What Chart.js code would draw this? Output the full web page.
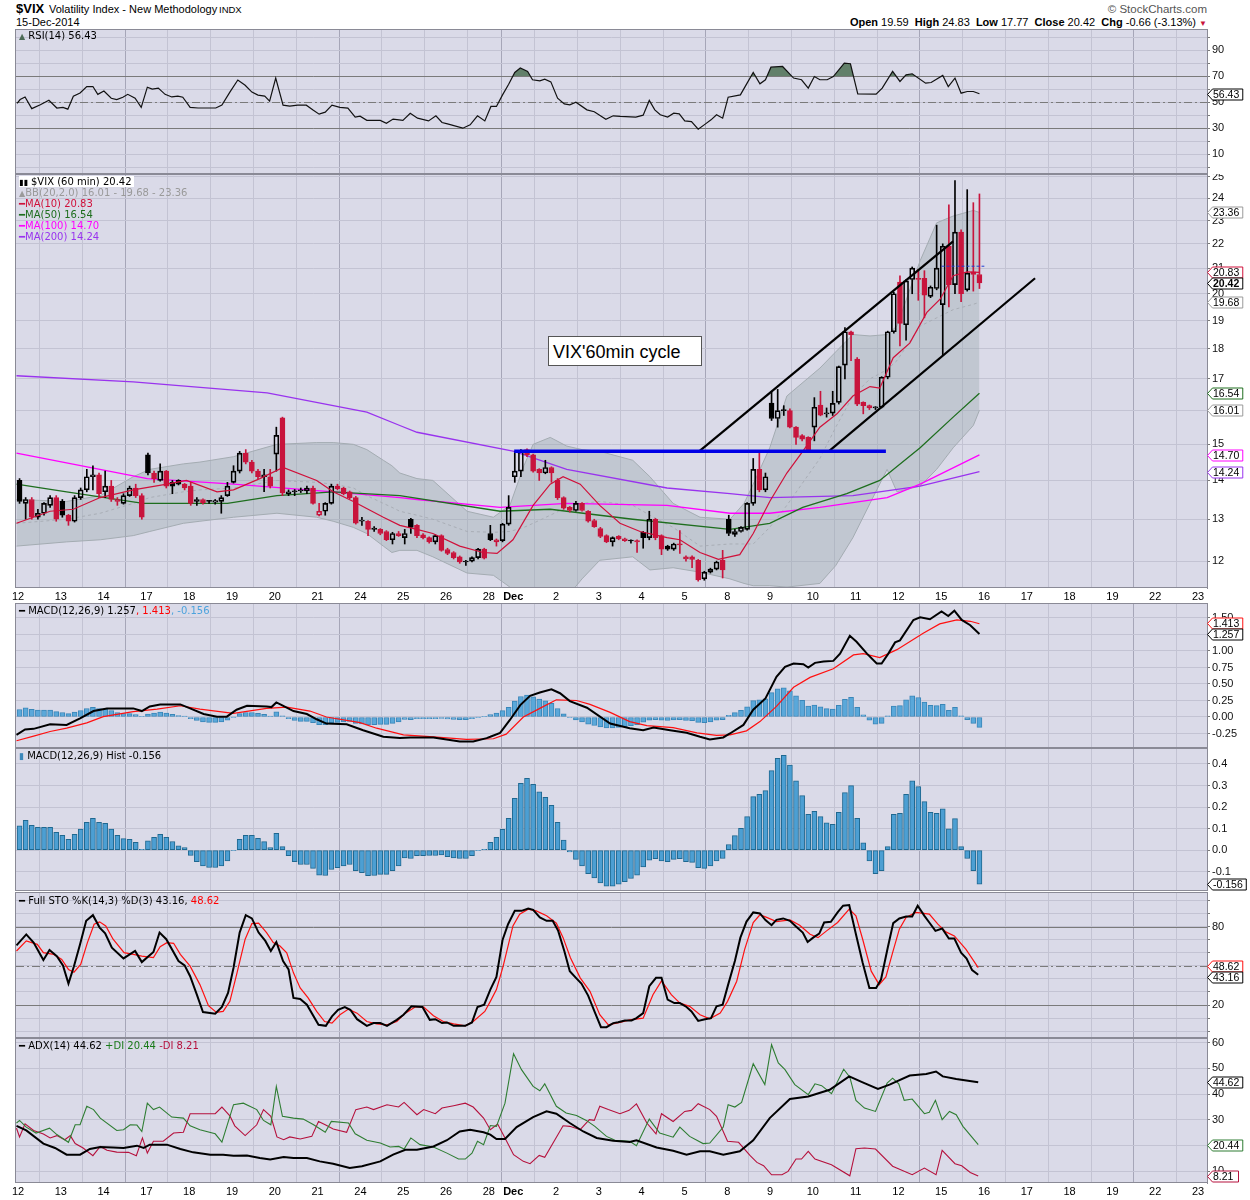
<!DOCTYPE html>
<html>
<head>
<meta charset="utf-8">
<script src="https://cdn.jsdelivr.net/npm/chart.js@4.4.1/dist/chart.umd.min.js"></script>
<style>
body{margin:0;background:#fff;width:1250px;height:1200px;position:relative;overflow:hidden;font-family:"Liberation Sans",Arial,sans-serif}
canvas{position:absolute;left:0}
.lg{position:absolute;left:19px;font-family:"DejaVu Sans",Verdana,sans-serif;font-size:10px;line-height:11px;white-space:nowrap;z-index:5}
.lg div{height:11px}
.hd{position:absolute;white-space:nowrap;z-index:5}
</style>
</head>
<body>
<div class="hd" style="left:16px;top:1px;font-size:13px;font-weight:bold">$VIX</div>
<div class="hd" style="left:49px;top:3px;font-size:11px">Volatility Index - New Methodology</div>
<div class="hd" style="left:219px;top:4px;font-size:9.5px">INDX</div>
<div class="hd" style="left:16px;top:16px;font-size:11px">15-Dec-2014</div>
<div class="hd" style="right:43px;top:3px;font-size:11.5px;color:#555">© StockCharts.com</div>
<div class="hd" style="right:43px;top:16px;font-size:11px"><b>Open</b> 19.59 &nbsp;<b>High</b> 24.83 &nbsp;<b>Low</b> 17.77 &nbsp;<b>Close</b> 20.42 &nbsp;<b>Chg</b> -0.66 (-3.13%) <span style="color:#c8143c;font-size:8px">▼</span></div>

<canvas id="rsi" width="1250" height="145" style="top:29px"></canvas>
<canvas id="main" width="1250" height="428" style="top:174px"></canvas>
<canvas id="macd" width="1250" height="145" style="top:603px"></canvas>
<canvas id="hist" width="1250" height="143" style="top:748px"></canvas>
<canvas id="sto" width="1250" height="146" style="top:892px"></canvas>
<canvas id="adx" width="1250" height="159" style="top:1038px"></canvas>

<div class="lg" style="top:30px"><span style="color:#4d6b57;font-size:8px">▲</span> RSI(14) 56.43</div>
<div class="lg" style="top:176px">
  <div><span style="background:#fff;padding-right:2px"><span style="font-size:8px">▮▮</span> $VIX (60 min) 20.42</span></div>
  <div style="color:#9a9a9a"><span style="font-size:8px">▲</span>BB(20,2.0) 16.01 - 19.68 - 23.36</div>
  <div style="color:#d0103a">━MA(10) 20.83</div>
  <div style="color:#1e6e1e">━MA(50) 16.54</div>
  <div style="color:#ff00ff">━MA(100) 14.70</div>
  <div style="color:#9933ee">━MA(200) 14.24</div>
</div>
<div class="lg" style="top:605px">━ MACD(12,26,9) 1.257<span style="color:#ff0000">, 1.413</span><span style="color:#4ca3dd">, -0.156</span></div>
<div class="lg" style="top:750px"><span style="color:#3b87ba;font-size:9px">▮</span> MACD(12,26,9) Hist -0.156</div>
<div class="lg" style="top:895px">━ Full STO %K(14,3) %D(3) 43.16,<span style="color:#ff0000"> 48.62</span></div>
<div class="lg" style="top:1040px">━ ADX(14) 44.62 <span style="color:#1a7a1a">+DI 20.44</span> <span style="color:#b5103c">-DI 8.21</span></div>

<div class="hd" style="left:548px;top:336px;width:154px;height:30px;border:1px solid #555;background:#fff;font-size:18px;line-height:30px;padding-left:4px;box-sizing:border-box">VIX'60min cycle</div>

<script>
// ---- x axis: day starts (bar index) and their labels
const dayStart = [0,7,14,21,28,35,42,49,56,63,70,77,81,88,95,102,109,116,123,130,137,144,151,158,165,172,179,186,193];
const dayLabel = ['12','13','14','17','18','19','20','21','24','25','26','28','Dec','2','3','4','5','8','9','10','11','12','15','16','17','18','19','22','23'];
const weekStart = [21,56,81,116,151,186];

// ---- hourly candles
const open = [14.0,13.4,13.5,13.05,13.15,13.35,13.55,13.45,13.1,12.95,
13.55,13.75,14.1,14.15,13.7,13.85,13.5,13.4,13.6,13.8,
13.6,14.7,14.2,14.0,14.25,13.95,14.0,13.9,13.85,13.5,
13.5,13.45,13.43,13.45,13.6,13.95,14.25,14.75,14.5,14.25,
14.1,14.1,14.72,15.78,13.65,13.7,13.72,13.72,13.8,13.1,
13.2,13.4,13.85,13.8,13.7,13.55,12.95,12.95,12.75,12.75,
12.7,12.5,12.65,12.55,13.0,12.85,12.62,12.55,12.45,12.6,
12.27,12.2,12.1,11.98,12.0,12.08,12.28,12.65,12.5,12.48,
12.88,14.1,14.25,14.85,14.7,14.3,14.2,14.35,14.0,13.55,
13.3,13.22,13.4,13.2,12.97,12.77,12.6,12.45,12.58,12.52,
12.47,12.48,12.68,12.55,13.0,12.6,12.35,12.28,12.4,12.1,
12.1,12.02,11.6,11.75,11.82,12.02,13.0,12.63,12.7,12.75,
13.4,14.3,13.75,16.23,15.76,16.0,16.0,15.5,15.25,15.2,
15.5,16.17,15.9,15.92,16.25,17.45,18.6,17.65,16.25,16.15,
16.08,16.1,17.05,18.6,20.45,18.85,20.55,20.6,20.6,19.9,
20.2,19.59,21.9,20.35,22.5,20.15,20.85,20.75];
const high = [14.05,13.55,13.55,13.25,13.42,13.6,13.6,13.5,13.12,13.6,
13.8,14.3,14.4,14.2,14.25,14.0,13.55,13.65,13.85,13.9,
13.65,14.75,14.25,14.45,14.27,14.0,14.02,13.92,13.95,13.55,
13.52,13.48,13.5,13.6,13.95,14.4,14.8,14.85,14.55,14.3,
14.3,14.3,15.5,15.8,13.75,13.76,13.8,13.85,13.85,13.4,
13.42,13.9,13.9,13.82,13.72,13.58,13.05,12.97,12.82,12.77,
12.72,12.68,12.7,12.75,13.02,12.87,12.65,12.57,12.62,12.62,
12.3,12.22,12.12,12.02,12.1,12.3,12.3,12.85,12.52,12.9,
13.6,14.8,14.85,14.87,14.72,14.32,14.55,14.37,14.05,13.57,
13.32,13.45,13.42,13.22,13.0,12.8,12.62,12.57,12.6,12.54,
12.5,12.5,12.7,13.2,13.02,12.62,12.37,12.42,12.72,12.12,
12.12,12.04,11.77,11.84,12.0,12.25,13.1,12.75,12.82,13.42,
14.6,14.75,14.2,16.6,16.66,16.15,16.05,15.52,15.28,15.22,
16.4,16.6,16.08,16.6,17.42,18.75,18.62,17.7,16.27,16.17,
16.12,17.07,18.62,20.05,20.7,20.55,21.05,20.95,20.9,20.3,
22.8,22.0,23.7,24.83,22.6,24.4,23.8,24.2];
const low = [13.4,13.0,13.0,13.0,13.1,13.3,12.95,13.05,12.85,12.93,
13.5,13.7,13.75,13.55,13.55,13.45,13.35,13.38,13.58,13.55,
13.0,14.15,13.95,13.98,13.8,13.65,13.88,13.75,13.35,13.35,
13.38,13.4,13.38,13.15,13.58,13.93,14.2,14.45,14.2,14.05,
13.7,13.8,14.25,13.6,13.6,13.6,13.68,13.65,13.38,13.08,
13.1,13.38,13.75,13.62,13.52,12.88,12.85,12.6,12.7,12.62,
12.48,12.4,12.58,12.4,12.65,12.55,12.52,12.42,12.4,12.23,
12.15,12.05,11.95,11.9,11.98,12.05,12.05,12.48,12.35,12.45,
12.85,13.95,14.1,14.65,14.22,14.0,14.18,13.95,13.5,13.25,
13.18,13.2,13.2,12.93,12.8,12.55,12.43,12.35,12.5,12.46,
12.42,12.2,12.3,12.5,12.5,12.15,12.25,12.25,12.18,12.0,
11.85,11.55,11.57,11.73,11.8,11.62,12.6,12.58,12.68,12.73,
13.35,13.7,13.7,15.7,15.5,15.85,15.48,15.0,15.1,14.82,
15.1,15.84,15.8,15.85,16.2,17.0,17.6,16.15,15.9,16.03,
16.03,16.08,17.0,18.55,18.1,18.3,20.0,19.75,19.1,19.85,
20.15,17.77,19.5,20.0,19.7,20.1,20.1,20.2];
const close = [13.45,13.5,13.05,13.15,13.4,13.55,13.0,13.1,12.95,13.55,
13.75,14.1,14.15,13.65,13.85,13.5,13.45,13.6,13.8,13.6,
13.05,14.2,14.05,14.25,13.85,13.85,13.9,13.8,13.4,13.45,
13.42,13.46,13.47,13.55,13.85,14.25,14.75,14.5,14.25,14.1,
14.15,13.85,15.26,13.67,13.7,13.72,13.75,13.8,13.4,13.2,
13.4,13.85,13.78,13.65,13.55,12.9,12.98,12.75,12.78,12.65,
12.5,12.65,12.6,12.65,12.8,12.6,12.55,12.45,12.6,12.25,
12.18,12.08,11.98,12.0,12.08,12.28,12.07,12.5,12.45,12.88,
13.3,14.25,14.82,14.7,14.25,14.2,14.35,14.2,13.55,13.28,
13.22,13.4,13.22,12.95,12.82,12.58,12.45,12.55,12.52,12.48,
12.48,12.45,12.55,13.0,12.55,12.28,12.28,12.4,12.38,12.05,
12.04,11.58,11.75,11.82,11.98,11.8,12.65,12.7,12.8,13.4,
14.3,13.75,14.1,15.76,16.0,16.02,15.5,15.2,15.15,14.85,
16.1,15.86,15.93,16.22,17.4,18.6,18.5,16.2,16.15,16.08,
16.1,17.05,18.6,20.0,18.9,20.5,21.0,20.55,19.95,20.25,
21.0,21.9,20.35,22.5,20.0,20.8,20.75,20.42];

// ---- price overlays, [bar index, value]
const ma10 = [[-0.5,12.9],[5,13.2],[8.8,13.25],[13.2,13.55],[18.6,13.75],[24.1,13.9],[27.3,14.0],[32.3,13.7],[35,13.75],[39.3,14.05],[43.1,14.35],[48.6,14.0],[51.3,13.7],[54.6,13.45],[59.5,13.05],[62.2,12.85],[65,12.75],[67.6,12.65],[72,12.35],[75.8,12.2],[78.1,12.18],[80.7,12.5],[84,13.35],[86.8,13.9],[88.9,14.1],[91.7,13.9],[94.9,13.35],[98.2,12.9],[101.5,12.7],[105.9,12.55],[108,12.5],[111.3,12.2],[114.3,12.04],[117.8,12.15],[120,12.65],[122.7,13.45],[125.5,14.2],[128.1,14.8],[130.9,15.5],[133.7,15.9],[136.3,16.45],[139.1,16.75],[140.7,16.7],[142.9,17.7],[145.6,18.2],[148.4,19.3],[150.6,19.8],[152.7,20.7],[155,20.85],[157,20.83]];
const ma50 = [[-0.5,13.9],[7.7,13.7],[20.2,13.4],[34,13.4],[42.1,13.6],[51.3,13.7],[62.2,13.6],[78.6,13.2],[86.8,13.25],[100.3,13.0],[116.2,12.75],[122.7,12.9],[128.1,13.3],[135.3,13.65],[140.7,14.0],[147.3,14.9],[152.7,15.8],[157,16.54]];
const ma100 = [[-0.5,14.75],[20.9,14.05],[35,13.9],[51.3,13.7],[62.2,13.55],[65,13.5],[78.6,13.3],[89.5,13.4],[105.9,13.35],[116.2,13.15],[122.7,13.15],[130.9,13.3],[141.9,13.55],[147.3,13.9],[157,14.70]];
const ma200 = [[-0.5,17.1],[18.6,16.9],[40.5,16.55],[56.8,15.95],[62.2,15.55],[65,15.35],[80.9,14.8],[89.5,14.3],[105.9,13.8],[116.2,13.65],[122.7,13.55],[136.3,13.6],[147.3,13.85],[157,14.24]];
// Bollinger: [bar index, lower, middle, upper]
const bb = [[-0.5,12.35,12.9,13.5],[7.7,12.45,13.0,13.45],[13.2,12.5,13.15,13.6],[18.6,12.6,13.4,14.1],[21.3,12.7,13.55,14.3],[26.8,12.9,13.7,14.45],[29.5,12.95,13.75,14.5],[35,13.05,13.8,14.65],[42.1,13.15,14.0,15.0],[48.6,13.05,13.95,15.05],[51.3,12.95,13.9,15.05],[54.6,12.8,13.8,15.0],[56.8,12.65,13.6,14.85],[59.5,12.35,13.4,14.55],[60.9,12.2,13.3,14.4],[62.2,12.25,13.2,14.2],[65,12.25,13.1,14.05],[67.6,12.1,13.0,14.0],[73.2,11.73,12.7,13.2],[77.5,11.68,12.68,13.05],[80.2,11.42,12.7,13.35],[82.5,11.2,12.8,14.4],[84,11.1,12.9,15.0],[86.8,11.1,13.1,15.2],[89.5,11.2,13.3,14.95],[92,11.6,13.4,14.85],[94.9,12.02,13.45,14.8],[100.3,12.1,13.35,14.55],[103.1,11.8,13.1,14.1],[106.9,11.85,12.8,13.4],[111.3,11.75,12.35,13.05],[116.2,11.6,12.4,13.0],[118.5,11.5,12.4,13.4],[120,11.45,12.4,13.9],[122.7,11.45,12.8,14.9],[125.5,11.42,13.35,16.45],[130.9,11.5,14.6,17.35],[133.5,11.9,15.5,17.9],[136.3,12.55,16.45,18.5],[139.1,13.4,17.0,18.45],[141.9,14.3,17.3,18.5],[143.5,13.7,17.6,18.8],[147.3,13.85,18.8,21.3],[150,14.3,19.1,22.9],[152.7,14.9,19.4,23.2],[156,15.55,19.6,23.45],[157,16.01,19.68,23.36]];
// drawn annotations
const resistance = [[80.9,14.8],[141.7,14.8]];
const channelTop = [[111,14.78],[152.7,22.1]];
const channelBottom = [[132.2,14.78],[166.1,20.6]];
const priorClose = [[150.8,21.08],[157.8,21.08]];

// ---- RSI(14)
const rsi = [[-0.4,49],[0.1,52],[0.9,54],[2,45],[3.4,48],[4.8,51.5],[6.1,45.5],[7.1,46],[7.9,44.6],[8.8,54.6],[9.9,57],[11,62],[12,62],[12.8,56],[13.8,58.5],[15,53],[15.9,52],[16.9,53.8],[17.7,56],[18.9,53],[19.9,46],[20.9,61.5],[21.7,60],[22.7,60.8],[23.8,56],[24.9,54],[25.9,54.6],[26.7,53.8],[27.9,46],[29.2,45.5],[30.7,45.5],[32.1,45.5],[33.1,47.7],[34.4,57.7],[35.7,67],[36.9,63],[38,57.7],[39,55.4],[40.1,54.6],[40.9,50.8],[41.9,68.5],[43.1,47.7],[44.2,47],[45.5,47.7],[46.9,47.7],[48,44],[49,40.8],[50,42.3],[51.1,47.7],[52.4,46],[53.7,45.4],[54.9,38.5],[55.7,39.2],[56.8,36],[59,36],[60,33.8],[61.1,37],[62.7,36],[63.9,41.5],[65.1,37.7],[66.9,35.6],[68.1,39.5],[69.1,34.4],[70,33.3],[72.5,30],[73.7,32.6],[74.9,39.5],[76.1,35.6],[77.1,46.7],[78,46.7],[79,55.6],[80,63.8],[81,72.8],[81.9,76.2],[83.1,73.6],[83.9,67.2],[85.1,66.4],[85.9,67.7],[86.9,65.6],[88,53],[89.1,48.7],[90,47.9],[91,50],[92.8,44.1],[94,42.6],[95.9,36.9],[97.1,39.5],[98.3,39],[100.8,38.5],[102,40],[103,51.3],[103.9,44.1],[104.8,40.3],[106,38.5],[107,41.5],[107.9,41],[108.8,35.6],[109.9,35.1],[111,29.2],[112.2,33.3],[113.1,36.4],[114,40.3],[115,37.7],[115.9,53.8],[117.9,55.6],[119,64.6],[120,72.8],[121.1,64.1],[122,67.2],[122.9,76.9],[124.8,77.4],[126.6,68.5],[127.9,67.2],[129,60.8],[130,69.7],[130.9,67.2],[132.1,67.2],[133.1,69.7],[134.9,80],[135.9,79.5],[137.1,56.4],[140.1,56.2],[141.1,60.8],[142.8,73.6],[144,65.9],[145,71],[146,71.8],[148.2,64.6],[149.1,65.1],[151,70.5],[151.9,62],[153,68.5],[154,56.9],[155,58.2],[156,58.2],[157,56.43]];

// ---- MACD(12,26,9)
const macd = [[-0.5,-0.27],[0.9,-0.19],[2.3,-0.18],[5,-0.11],[7.7,-0.12],[9.9,-0.02],[12.1,0.09],[14.3,0.13],[18.6,0.13],[20,0.09],[21.3,0.16],[23,0.19],[26.3,0.19],[27.9,0.13],[30.1,0.045],[32.3,0.005],[33.9,0.005],[35.5,0.11],[37.2,0.17],[40.4,0.16],[41.2,0.15],[42,0.22],[42.9,0.18],[44.8,0.09],[47,0.045],[48.6,-0.035],[50.2,-0.10],[53.5,-0.11],[56.2,-0.20],[59.5,-0.30],[62.2,-0.32],[63.9,-0.31],[67.7,-0.31],[72,-0.37],[74.2,-0.37],[76.4,-0.32],[77,-0.30],[78.6,-0.24],[80.2,-0.045],[81.9,0.18],[83.5,0.32],[85.1,0.37],[87,0.42],[88.4,0.36],[90,0.24],[92.8,0.14],[96.6,-0.10],[99.8,-0.17],[102,-0.20],[103.7,-0.16],[106.4,-0.20],[109.1,-0.24],[111.3,-0.30],[112.9,-0.34],[115.1,-0.31],[116.2,-0.25],[118.4,-0.12],[120,0.11],[122,0.28],[123.8,0.61],[125.2,0.76],[126.6,0.81],[128.2,0.80],[129,0.75],[130.1,0.82],[131.5,0.84],[133.1,0.85],[134.2,0.96],[135.8,1.23],[136.9,1.14],[138.6,0.96],[140.2,0.81],[141,0.81],[142.1,0.96],[143.2,1.13],[144,1.16],[146.2,1.47],[147.3,1.51],[148.9,1.48],[150.8,1.60],[151.9,1.53],[152.9,1.61],[154.1,1.47],[155.5,1.39],[157,1.257]];
const signal = [[-0.5,-0.36],[2.3,-0.29],[5,-0.22],[7.7,-0.17],[11,-0.09],[13.7,0.005],[18.6,0.08],[22.5,0.12],[26.3,0.17],[29.5,0.12],[35,0.055],[40.4,0.13],[43.7,0.15],[47.5,0.09],[50.2,0],[55.7,-0.085],[58.4,-0.17],[62.8,-0.27],[67.7,-0.30],[73.1,-0.34],[77.5,-0.33],[79.6,-0.26],[82.4,0],[85.1,0.13],[87.8,0.26],[91.1,0.25],[93.3,0.19],[96.6,0.07],[99.8,-0.07],[102.6,-0.13],[106.9,-0.16],[110.8,-0.24],[114,-0.28],[116.2,-0.27],[118.9,-0.21],[121.1,-0.07],[123.8,0.16],[126.6,0.45],[129.3,0.60],[133.1,0.73],[136.4,0.94],[138,0.96],[140.7,0.90],[143.5,1.02],[147.8,1.27],[150.5,1.41],[153.3,1.47],[155.5,1.45],[157,1.413]];
const hist = [0.113,0.138,0.115,0.106,0.106,0.106,0.082,0.068,0.05,0.073,
0.098,0.129,0.147,0.129,0.124,0.098,0.068,0.053,0.05,0.036,
0.003,0.043,0.059,0.073,0.059,0.040,0.020,0.012,-0.025,-0.054,
-0.073,-0.081,-0.081,-0.073,-0.050,-0.003,0.05,0.068,0.068,0.054,
0.039,0.012,0.078,0.016,-0.026,-0.054,-0.067,-0.067,-0.085,-0.116,
-0.118,-0.090,-0.082,-0.073,-0.067,-0.096,-0.105,-0.119,-0.118,-0.113,
-0.113,-0.096,-0.073,-0.036,-0.039,-0.026,-0.026,-0.025,-0.025,-0.022,
-0.031,-0.036,-0.039,-0.039,-0.026,-0.002,0.003,0.036,0.059,0.096,
0.147,0.240,0.310,0.333,0.305,0.271,0.245,0.208,0.129,0.047,
-0.009,-0.043,-0.073,-0.109,-0.129,-0.152,-0.167,-0.167,-0.158,-0.147,
-0.132,-0.116,-0.078,-0.047,-0.040,-0.050,-0.054,-0.043,-0.040,-0.054,
-0.057,-0.082,-0.085,-0.073,-0.050,-0.039,0.026,0.067,0.101,0.155,
0.248,0.259,0.276,0.369,0.426,0.440,0.395,0.322,0.253,0.166,
0.180,0.155,0.127,0.119,0.175,0.267,0.299,0.147,0.034,-0.050,
-0.109,-0.096,0.016,0.166,0.171,0.259,0.322,0.295,0.225,0.175,
0.171,0.192,0.099,0.146,0.016,-0.039,-0.096,-0.158];

// ---- Full STO %K(14,3) %D(3)
const stoK = [[-0.5,65.6],[1.1,74],[2.3,67.7],[3.9,54.4],[4.9,62],[6.1,57.4],[7.1,50.3],[8,36.4],[8.9,49.7],[9.9,66.4],[10.9,84.4],[12,88.7],[13.1,79.2],[14,74.9],[15.1,63.8],[17,55.6],[18.9,61.3],[20,52.8],[21.9,60.5],[22.9,75.4],[24,70.3],[26,53.6],[27,50.3],[27.9,42],[29,27.9],[30,14.6],[32,13.3],[33.1,18.5],[34.1,29.2],[35,48.5],[36,75.4],[37,88.7],[38,86.2],[39.1,75.4],[40.2,69],[41.1,61.3],[42,68.2],[43.1,53.6],[44,47.2],[44.8,25.4],[45.9,24.6],[47,20.3],[48.9,4.9],[50.1,4.1],[51.1,11.3],[52.1,16.4],[53.2,18.5],[54.1,16.4],[55.2,9.2],[56.8,4.1],[57.9,6.2],[59,6.2],[60.1,4.1],[61.7,8.7],[62.8,12.6],[64.1,19],[65.9,18.5],[67.1,8.7],[68,9.2],[69.1,6.2],[69.9,6.7],[71,4.1],[72.9,4.1],[74,6.7],[74.9,18.5],[76,20.3],[77,31.8],[78,41.5],[79,69.7],[79.9,81.8],[81,92],[82.1,92],[83.2,93.8],[84,92.8],[85.1,86.9],[86.2,84.4],[87.2,84.4],[88.1,76.7],[89.1,61.3],[90,45.9],[91,40.8],[91.9,36.4],[93,27.2],[94.1,14.4],[95.1,3.1],[96,3.1],[97.1,6.2],[97.9,6.9],[99,8.2],[100.1,8.2],[100.9,10],[102,13.8],[103,34.4],[104.1,40.8],[105,40.8],[106,24.1],[107.1,21.5],[108,21.5],[109.1,18.5],[109.9,15.1],[111,7.9],[112.1,9.2],[113.1,10],[114,19],[115,20.3],[115.9,35.6],[117,53.6],[117.9,71.5],[118.9,83.8],[120,90.8],[121.1,90],[122,84.9],[123,81],[123.8,85.1],[124.9,86.2],[126,84.4],[127,80],[128.1,75.4],[128.9,68.2],[129.8,71.5],[130.8,74.6],[131.6,83.1],[132.7,83.6],[133.8,90.8],[134.7,95.9],[135.7,96.4],[136.8,74.1],[137.9,52.3],[139,33.1],[140.1,33.1],[140.9,39.5],[142,63.8],[142.9,82.6],[143.9,86.2],[145,87.7],[146,87.7],[146.9,95.9],[148,88.2],[148.8,83.1],[149.8,76.7],[150.9,78.5],[152,70.8],[152.9,70.8],[154,60],[154.9,55.6],[155.8,46.7],[156.8,43.16]];
const stoD = [[-0.5,61.3],[1.1,69],[2.9,66.4],[3.9,60],[5.6,58.7],[6.9,54.9],[8,47.2],[8.9,45.1],[10,51],[11.1,67.7],[12.2,81.8],[13.1,83.6],[14.1,80.5],[15.3,70.3],[17.1,60],[18.6,58.7],[20,57.4],[21.9,56.2],[23,64.6],[24.1,67.7],[25.2,67.2],[26.3,58.7],[27.9,49.7],[29.5,35.6],[30.9,19.5],[32.2,14.4],[33.3,15.1],[34.4,22.8],[35.5,43.3],[36.9,70.3],[38,82.3],[39.1,82.6],[40.4,75.4],[41.5,67.7],[42.6,65.1],[43.7,60],[44.8,44.6],[45.9,33.1],[47.2,25.4],[48.6,15.1],[49.9,7.4],[51.1,6.2],[52.4,12.6],[53.8,16.9],[55.2,13.8],[56.8,7.4],[58.4,5.6],[60.1,4.9],[61.7,7.4],[63.1,13.8],[64.7,18.5],[66.1,18.5],[67.7,11.8],[69.3,7.4],[71,5.6],[72.9,4.1],[74.2,7.4],[76.1,15.1],[77,22.8],[78,31.8],[79.1,49.7],[80.7,80.5],[81.8,89.5],[83.2,93.3],[84.5,92],[86.2,88.2],[87.8,82.6],[88.9,71.5],[90.1,56.2],[91.7,40.8],[93.3,30.5],[94.9,12.6],[96.3,4.9],[98.2,6.7],[99.8,8.7],[102,10],[103.6,27.9],[105,38.5],[106.6,27.9],[108,21.5],[109.6,19],[111.3,12.6],[112.9,9.5],[114.6,13.8],[115.8,22.8],[117.3,38.2],[118.6,62.6],[120,83.1],[121.1,89],[122.2,87],[123.8,83.8],[126,85.1],[127.6,81],[129.3,74.1],[130.6,71.5],[132,76.7],[133.8,83.1],[135.7,93.3],[136.8,88.2],[137.9,70.3],[139.3,45.9],[140.6,35.6],[141.7,41.5],[142.8,60],[143.9,78],[145,86.9],[146.6,90.8],[148.8,89.5],[150.2,81.8],[151.5,75.9],[152.9,72.8],[154.8,62.6],[156.8,48.62]];

// ---- ADX(14), +DI, -DI
const adx = [[-0.5,27.7],[1.1,25.9],[3.9,20.8],[5.8,19.1],[7.7,16.5],[9.9,16.5],[11.5,18.7],[13.2,19.5],[15.3,19.3],[17,19.1],[19.2,20],[20.3,19.1],[21.3,20.4],[24.1,20.4],[26.3,18.7],[28.4,17.4],[31.2,16.5],[33.3,16.5],[35,16.1],[37.2,16.2],[39.3,15.2],[41,14.6],[43.2,15.6],[44.8,15.2],[47,15.2],[49.1,13.9],[51.3,13],[54,11.3],[56,12],[59,13.9],[61.1,16.5],[63.1,18.4],[65,18.4],[67.7,19.7],[69.9,22.1],[72,25.5],[73.7,26.2],[75.9,25.2],[77,24.3],[78,22.6],[79.4,22.6],[81.3,27.2],[84,31.1],[86.2,33.3],[87.8,32.4],[90,28.8],[92.2,25.5],[94.4,23],[97.1,21.9],[99.8,21.4],[100.9,22.1],[104.2,19.3],[106.9,18],[109.1,16.5],[111.3,17.8],[112.9,17.8],[115.1,16.5],[117.8,17.8],[120,22.1],[122.7,30.7],[126,38.1],[129,39.1],[132.5,41.7],[135.7,46.9],[137.9,44.6],[140.4,42],[142.3,43.7],[145.6,47.2],[148.3,47.8],[149.9,48.8],[151,46.9],[153.2,45.9],[156.8,44.62]];
const plusDI = [[-0.5,28.8],[0,29.8],[1.1,27.2],[2.7,24.9],[4.9,26.8],[6.1,24.3],[8,21.3],[9.1,28.1],[9.9,28.1],[11,35.3],[12.1,34],[13.2,30.7],[15.9,25.9],[17,26.2],[18.1,28.1],[19.2,28],[20,25.5],[20.9,36.5],[21.9,34],[22.9,35],[24.9,31.1],[26.8,30.7],[27.9,27.7],[29.5,26.2],[32,24.6],[33.1,21.4],[35,35.9],[36.6,36.5],[38.8,34],[39.9,29.8],[41.1,28.1],[42,43],[43,31.4],[44.8,30.7],[46.4,30.3],[48.1,28.1],[50,25.2],[51,29.4],[53.8,28.8],[54.9,24.6],[56.8,22.1],[59,21],[60.6,19.5],[62,19.7],[62.9,18.7],[64,23],[65.5,20.4],[67.7,19.5],[69.9,17.1],[71.8,14.8],[72.9,14.8],[74,17.1],[74.9,21.7],[75.9,20.4],[77,27.8],[78,27.5],[79.4,36.5],[80.8,55.7],[82.1,49.5],[84,43],[85.1,41.3],[85.9,44],[87.8,35.3],[89.4,32.7],[91.1,31.7],[92.7,29.8],[94.1,27.5],[96,23.6],[97.4,22.1],[99.8,21.7],[100.9,20],[103,30.3],[104.7,24.9],[106.9,23.3],[108,27.2],[109.6,23.6],[111.8,20.8],[112.9,21],[115.1,27.2],[115.9,35.9],[117,35],[118.1,36.8],[120,51.8],[121.9,43.7],[123,59.2],[124.1,52.1],[125.2,49.5],[126.8,43.7],[129,39.8],[130.1,44],[131.2,43.3],[132.8,40.2],[134.8,49.7],[135.8,46.6],[136.8,37.6],[138.2,34.6],[140,33.3],[141.9,44.3],[142.8,46.2],[143.8,44],[144.7,37.6],[146,38.1],[148,32.4],[148.8,33],[149.8,37.6],[150.9,30.1],[152.1,33.3],[153.2,32],[154.3,27.5],[156.8,20.44]];
const minusDI = [[-0.5,26.8],[0,23.4],[0.9,28.5],[2.3,25.9],[3.9,24.5],[5,23],[6.1,23.9],[7.4,22.3],[8.3,23.9],[9.1,20.8],[10.4,19.1],[12,16.1],[13.2,19.7],[14.3,18.2],[15.9,17.5],[17.8,17.4],[19.1,16.1],[20.1,23],[20.9,17.1],[21.9,21.7],[23.5,21.7],[25.2,24.9],[26.8,25.2],[27.9,32.4],[30.6,32.4],[32,32.4],[33.1,35],[34.4,31.6],[35.2,27.7],[36.9,23.9],[38.8,28.1],[39.9,34],[41.1,31.4],[42.1,23.4],[43.2,22.3],[44.2,23.4],[45.9,22.6],[47.8,23.6],[48.9,29.4],[50,28.1],[51.3,26.5],[53.5,25.2],[55,34],[56.8,35],[57.9,34],[60.1,35.9],[62,35],[62.9,36.8],[65,32],[66.1,34],[68,32.4],[69.1,34.6],[71,35.5],[72.9,36.5],[74.2,35],[75.9,30.7],[77,26.2],[78.2,28.4],[79.4,23],[80.8,16.5],[82.4,13.9],[83.5,13],[85,16.2],[85.9,15.5],[88.9,27.7],[90,27.5],[91.7,26.2],[93.2,30.1],[94,29.8],[94.9,35.3],[96.3,34],[98.2,32.4],[99.7,33.7],[100.9,36.2],[102.6,28.8],[104.1,24.6],[105,32.4],[106.9,29.4],[108.8,33.3],[109.9,33.7],[111,36.3],[112.9,34],[114,31.4],[115.8,21.7],[117.6,21.3],[119.5,16.1],[120.6,13.5],[121.7,12.2],[123,8.7],[124.7,8.7],[125.7,10],[127,14.8],[127.9,14.8],[129,17.8],[130.1,14.8],[132.8,12.6],[135.8,8.3],[136.8,18.8],[138.2,19.1],[140,18.7],[142.8,12],[146,8.7],[148,11.3],[149.9,8.7],[150.9,18.2],[153,13],[154.1,12.2],[155.5,9.6],[156.8,8.21]];

// ===================== drawing =====================
Chart.defaults.font.family = '"Liberation Sans", Arial, sans-serif';
Chart.defaults.font.size = 11;
Chart.defaults.color = '#111';

const BG = '#dadae8', GRID = '#c3c3d3', FRAME = '#8a8a96', RED = '#c8143c';
const kx = k => k + 0.25;
const pts = arr => arr.map(([k, v]) => ({x: kx(k), y: v}));
const line = (arr, color, width, extra) => Object.assign({type: 'line', data: pts(arr), borderColor: color, borderWidth: width, pointRadius: 0, tension: 0, fill: false}, extra || {});

// background, reference lines, frame and right-hand value flags
const paneDeco = {
  id: 'paneDeco',
  beforeDraw(chart) {
    const {ctx, chartArea: a} = chart;
    ctx.save();
    ctx.fillStyle = BG;
    ctx.fillRect(a.left, a.top, a.width, a.height);
    ctx.restore();
  },
  beforeDatasetsDraw(chart, args, o) {
    const {ctx, chartArea: a, scales: {y}} = chart;
    (o.lines || []).forEach(l => {
      const py = Math.round(y.getPixelForValue(l.v)) + 0.5;
      ctx.save();
      ctx.strokeStyle = l.color;
      ctx.lineWidth = 1;
      ctx.setLineDash(l.dash || []);
      ctx.beginPath(); ctx.moveTo(a.left, py); ctx.lineTo(a.right, py); ctx.stroke();
      ctx.restore();
    });
  },
  afterDraw(chart, args, o) {
    const {ctx, chartArea: a, scales: {y}} = chart;
    ctx.save();
    ctx.strokeStyle = FRAME;
    ctx.lineWidth = 1;
    ctx.strokeRect(a.left - 0.5, a.top + 0.5, a.width + 1, a.height - 1);
    // flags sit at their value, nudged apart when they would overlap
    const flags = (o.boxes || []).map(b => Object.assign({py: y.getPixelForValue(b.v)}, b));
    const byY = flags.slice().sort((p, q) => p.py - q.py);
    for (let i = 1; i < byY.length; i++) {
      const gap = byY[i].py - byY[i - 1].py;
      if (gap < 11) { byY[i - 1].py -= (11 - gap) / 2; byY[i].py += (11 - gap) / 2; }
    }
    ctx.font = '10.5px "Liberation Sans", Arial';
    flags.forEach(b => {
      ctx.font = (b.bold ? 'bold ' : '') + '10.5px "Liberation Sans", Arial';
      const w = Math.max(31, ctx.measureText(b.text).width + 9);
      const py = Math.round(b.py) + 0.5;
      const x0 = a.right + 0.5;
      ctx.beginPath();
      ctx.moveTo(x0, py); ctx.lineTo(x0 + 5, py - 5.5); ctx.lineTo(x0 + w, py - 5.5);
      ctx.lineTo(x0 + w, py + 5.5); ctx.lineTo(x0 + 5, py + 5.5); ctx.closePath();
      ctx.fillStyle = '#fff'; ctx.fill();
      ctx.strokeStyle = b.color; ctx.stroke();
      ctx.fillStyle = '#000';
      ctx.textBaseline = 'middle';
      ctx.fillText(b.text, x0 + 5.5, py + 0.5);
    });
    ctx.restore();
  }
};

function xAxis(showLabels) {
  return {
    type: 'linear', min: -0.33, max: 194.47, offset: false,
    afterBuildTicks: s => { s.ticks = dayStart.map(v => ({value: v})); },
    afterFit: s => { s.height = showLabels ? 14 : 0; s.paddingLeft = 0; s.paddingRight = 0; },
    ticks: {
      display: showLabels, autoSkip: false, maxRotation: 0, padding: 2, color: '#000',
      callback: (v, i) => dayLabel[i],
      font: c => ({size: 11, weight: dayLabel[c.index] === 'Dec' ? 'bold' : 'normal'})
    },
    grid: {color: c => weekStart.includes(c.tick && c.tick.value) ? '#a6a6b8' : GRID, drawTicks: false},
    border: {display: false}
  };
}

function yAxis(min, max, ticks, label, type) {
  return {
    type: type || 'linear', position: 'right', min, max,
    afterBuildTicks: s => { s.ticks = ticks.map(v => ({value: v})); },
    afterFit: s => { s.width = 43; s.paddingTop = 0; s.paddingBottom = 0; },
    ticks: {autoSkip: false, padding: 2, color: '#111', callback: v => label(v)},
    grid: {color: GRID, tickLength: 3, tickColor: '#777'},
    border: {color: FRAME}
  };
}

function makeChart(id, datasets, y, deco, showX) {
  return new Chart(document.getElementById(id), {
    type: 'bar',
    data: {datasets},
    options: {
      responsive: false, animation: false, events: [],
      layout: {padding: {left: 16, right: 0, top: 0, bottom: 0}},
      plugins: {legend: {display: false}, tooltip: {enabled: false}, paneDeco: deco},
      scales: {x: xAxis(showX), y}
    },
    plugins: [paneDeco]
  });
}
const tens = [0,10,20,30,40,50,60,70,80,90,100];

// RSI
makeChart('rsi', [
  line(rsi, '#111', 1.2, {fill: {target: {value: 70}, above: '#62806a', below: 'rgba(0,0,0,0)'}})
], yAxis(-5.2, 106.2, tens, v => [10,30,50,70,90].includes(v) ? String(v) : ''), {
  lines: [{v: 70, color: '#7a7a7a'}, {v: 30, color: '#7a7a7a'}, {v: 50, color: '#7a7a7a', dash: [8, 3, 2, 3]}],
  boxes: [{v: 56.43, text: '56.43', color: '#000'}]
}, false);

// price panel
const candleColor = close.map((c, i) => (i === 0 || c >= close[i - 1]) ? '#000' : RED);
const bodyFill = close.map((c, i) => c < open[i] ? candleColor[i] : 'rgba(0,0,0,0)');
const upperWick = high.map((h, i) => ({x: kx(i), y: [Math.max(open[i], close[i]), h]}));
const lowerWick = low.map((l, i) => ({x: kx(i), y: [l, Math.min(open[i], close[i])]}));
const bodies = open.map((o, i) => ({x: kx(i), y: [Math.min(o, close[i]), Math.max(o, close[i])]}));
const barBase = {type: 'bar', grouped: false, borderSkipped: false};

makeChart('main', [
  line(bb.map(r => [r[0], r[3]]), '#a4acb2', 1, {fill: '+1', backgroundColor: 'rgba(150,166,170,0.36)', order: 20}),
  line(bb.map(r => [r[0], r[1]]), '#a4acb2', 1, {order: 19}),
  line(bb.map(r => [r[0], r[2]]), '#a9aeb6', 1, {borderDash: [3, 3], order: 18}),
  line(ma200, '#9933ee', 1.3, {order: 8}),
  line(ma100, '#ff00ff', 1.3, {order: 7}),
  line(ma50, '#1e6e1e', 1.3, {order: 6}),
  Object.assign({data: upperWick, backgroundColor: candleColor, barThickness: 1, order: 5}, barBase),
  Object.assign({data: lowerWick, backgroundColor: candleColor, barThickness: 1, order: 5}, barBase),
  Object.assign({data: bodies, backgroundColor: bodyFill, borderColor: candleColor, borderWidth: 1, barThickness: 5, minBarLength: 1, order: 4}, barBase),
  line(ma10, '#d0103a', 1.2, {order: 3}),
  line(resistance, '#0000e6', 3.5, {order: 1}),
  line(channelTop, '#000', 2.2, {order: 1}),
  line(channelBottom, '#000', 2.2, {order: 1}),
  line(priorClose, '#1f3fd0', 1, {borderDash: [3, 2], order: 1})
], yAxis(11.40, 25.14, [12,13,14,15,16,17,18,19,20,21,22,23,24,25], v => String(v), 'logarithmic'), {
  boxes: [
    {v: 23.36, text: '23.36', color: '#9a9a9a'},
    {v: 19.68, text: '19.68', color: '#9a9a9a'},
    {v: 16.54, text: '16.54', color: '#1e6e1e'},
    {v: 16.01, text: '16.01', color: '#9a9a9a'},
    {v: 14.70, text: '14.70', color: '#ff00ff'},
    {v: 14.24, text: '14.24', color: '#9933ee'},
    {v: 20.83, text: '20.83', color: '#d0103a'},
    {v: 20.42, text: '20.42', color: '#000', bold: true}
  ]
}, true);

// MACD
const histPts = hist.map((v, k) => ({x: kx(k), y: v}));
makeChart('macd', [
  Object.assign({data: histPts, backgroundColor: '#5aa8da', borderColor: '#3a86b8', borderWidth: 1, barThickness: 5, order: 3}, barBase),
  line(signal, '#ff1010', 1.2, {order: 2}),
  line(macd, '#000', 2, {order: 1})
], yAxis(-0.47, 1.727, [-0.25,0,0.25,0.5,0.75,1,1.25,1.5], v => v.toFixed(2)), {
  boxes: [{v: 1.413, text: '1.413', color: '#ff1010'}, {v: 1.257, text: '1.257', color: '#000'}]
}, false);

// MACD histogram
makeChart('hist', [
  Object.assign({data: histPts, backgroundColor: '#4c9fd3', borderColor: '#1f6890', borderWidth: 1, barThickness: 5}, barBase)
], yAxis(-0.19, 0.474, [-0.1,0,0.1,0.2,0.3,0.4], v => v.toFixed(1)), {
  boxes: [{v: -0.156, text: '-0.156', color: '#000'}]
}, false);

// Full stochastics
makeChart('sto', [
  line(stoD, '#ff1010', 1.2, {order: 2}),
  line(stoK, '#000', 2, {order: 1})
], yAxis(-5.2, 106.4, tens, v => [20,50,80].includes(v) ? String(v) : ''), {
  lines: [{v: 80, color: '#7a7a7a'}, {v: 20, color: '#7a7a7a'}, {v: 50, color: '#7a7a7a', dash: [8, 3, 2, 3]}],
  boxes: [{v: 48.62, text: '48.62', color: '#ff1010'}, {v: 43.16, text: '43.16', color: '#000'}]
}, false);

// ADX
makeChart('adx', [
  line(minusDI, '#b5103c', 1.1, {order: 3}),
  line(plusDI, '#2e7d32', 1.1, {order: 2}),
  line(adx, '#000', 2, {order: 1})
], yAxis(5.5, 61.8, [10,20,30,40,50,60], v => String(v)), {
  boxes: [{v: 44.62, text: '44.62', color: '#000'}, {v: 20.44, text: '20.44', color: '#2e7d32'}, {v: 8.21, text: '8.21', color: '#b5103c'}]
}, true);
</script>
</body>
</html>
